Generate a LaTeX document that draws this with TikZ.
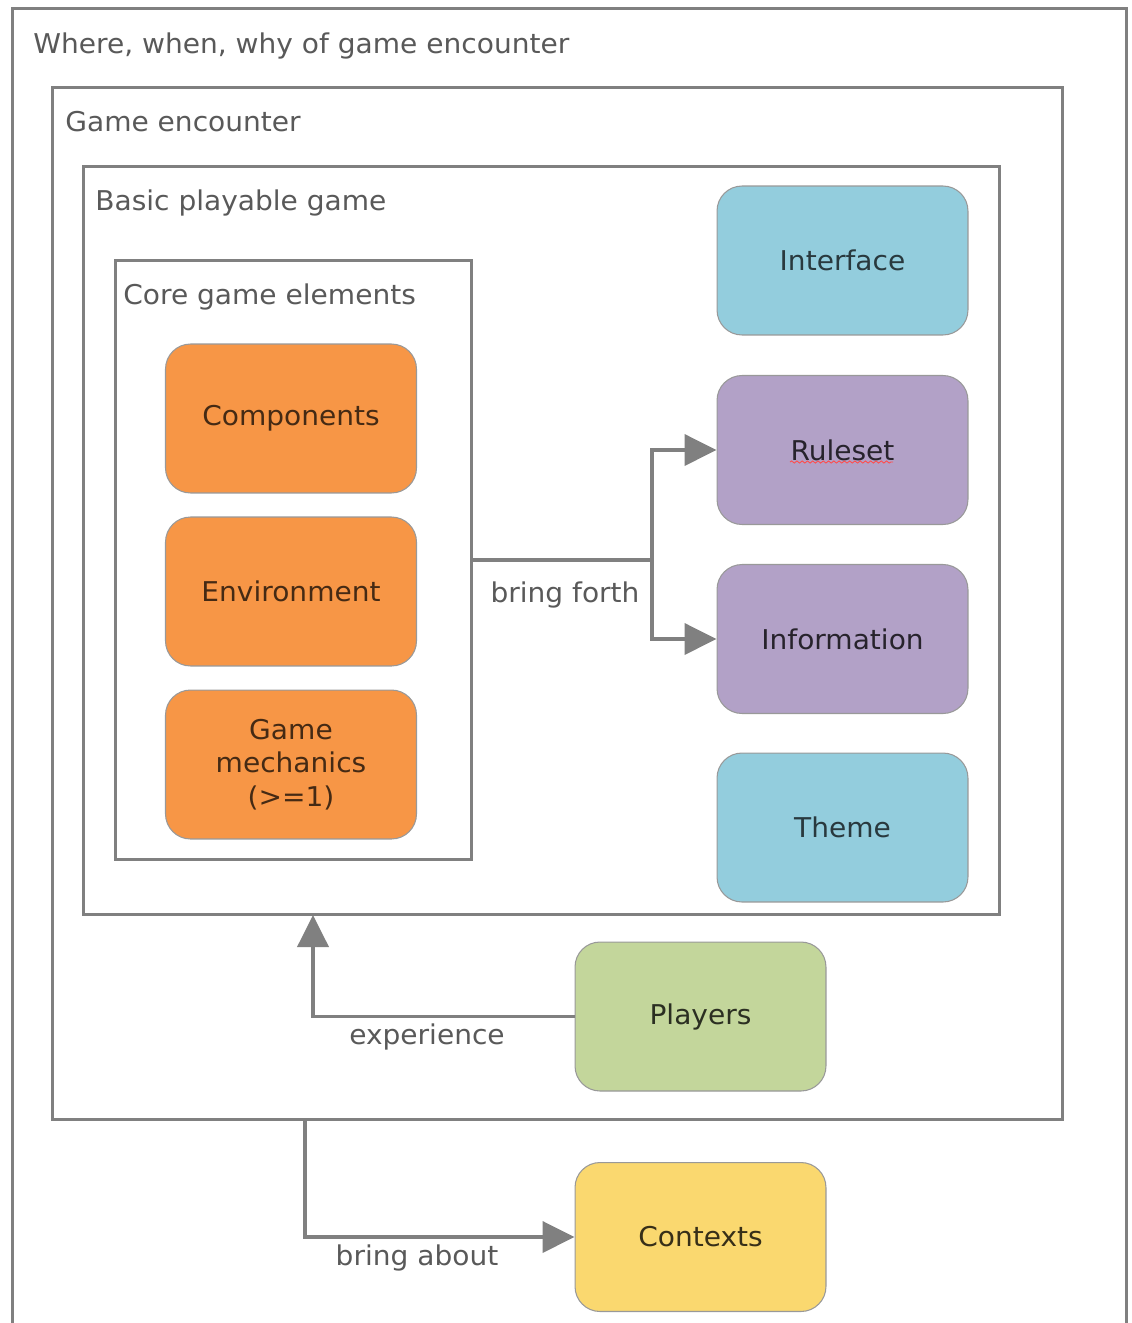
\documentclass[tikz,border=0pt]{standalone}
\usepackage{fontspec}
\setmainfont[FakeStretch=1.03]{DejaVu Sans}
\usetikzlibrary{arrows.meta,decorations.pathmorphing}
\definecolor{linegray}{HTML}{808080}
\definecolor{labelgray}{HTML}{595959}
\definecolor{orangefill}{HTML}{F79646}
\definecolor{bluefill}{HTML}{93CDDD}
\definecolor{purplefill}{HTML}{B2A1C7}
\definecolor{greenfill}{HTML}{C3D69B}
\definecolor{yellowfill}{HTML}{FAD86F}
\tikzset{
  frame/.style={draw=linegray, line width=1.7pt, rectangle, inner sep=0pt},
  frametitle/.style={anchor=base west, text=labelgray, font=\fontsize{15.5}{18}\selectfont, inner sep=0pt},
  elem/.style={draw=linegray!80, line width=0.6pt, rounded corners=0.5cm, minimum width=5.02cm,
    minimum height=2.98cm, align=center, font=\fontsize{15.5}{19}\selectfont, inner sep=2pt},
  orangebox/.style={elem, fill=orangefill, text=black!72!orangefill},
  bluebox/.style={elem, fill=bluefill, text=black!72!bluefill},
  purplebox/.style={elem, fill=purplefill, text=black!78!purplefill},
  greenbox/.style={elem, fill=greenfill, text=black!78!greenfill},
  yellowbox/.style={elem, fill=yellowfill, text=black!78!yellowfill},
  link/.style={draw=linegray, line width=2.2pt, -{Triangle[length=0.64cm,width=0.62cm]}},
  linklabel/.style={text=labelgray, font=\fontsize{15.5}{18}\selectfont, inner sep=0pt}
}
\begin{document}
\begin{tikzpicture}[x=0.02cm, y=-0.02cm]
\useasboundingbox (0,0) rectangle (1132,1323);
\fill[white] (0,0) rectangle (1132,1323);
\begin{scope}
\clip (0,0) rectangle (1132,1323);
% nested frames
\node[frame, minimum width=22.3cm, minimum height=26.64cm] (outer) at (569.5,674) {};
\node[frame, minimum width=20.22cm, minimum height=20.66cm] (encounter) at (557.5,603.5) {};
\node[frame, minimum width=18.34cm, minimum height=14.98cm] (basic) at (541.5,540.5) {};
\node[frame, minimum width=7.14cm, minimum height=12cm] (core) at (293.5,560) {};
\end{scope}
\node[frametitle] (t1) at (33,53) {Where, when, why of game encounter};
\node[frametitle] (t2) at (65,131) {Game encounter};
\node[frametitle] (t3) at (95,210) {Basic playable game};
\node[frametitle] (t4) at (123,304) {Core game elements};
% core game elements
\node[orangebox] (comp) at (291,418.5) {Components};
\node[orangebox] (env) at (291,591.5) {Environment};
\node[orangebox] (mech) at (291,764.5) {Game\\mechanics\\(>=1)};
% other parts of the basic playable game
\node[bluebox] (iface) at (842.5,260.5) {Interface};
\node[purplebox] (rules) at (842.5,450) {Ruleset};
\node[purplebox] (info) at (842.5,639) {Information};
\node[bluebox] (theme) at (842.5,827.5) {Theme};
% outside the basic game
\node[greenbox] (players) at (700.5,1016.5) {Players};
\node[yellowbox] (ctx) at (700.5,1237) {Contexts};
% spelling mark under Ruleset
\draw[red!70!white, line width=0.5pt, decorate, decoration={snake, amplitude=0.6pt, segment length=3pt}]
  (790,462) -- (893,462);
% connectors
\coordinate (fork) at (652,560);
\draw[link] (core.east) -- (fork) |- (rules.west);
\draw[link] (fork) |- (info.west);
\node[linklabel] (lforth) at (565,595) {bring forth};
\coordinate (expin) at (313,915);
\draw[link] (players.west) -| (expin);
\node[linklabel] (lexp) at (427,1037) {experience};
\coordinate (aboutout) at (305,1120);
\draw[link] (aboutout) |- (ctx.west);
\node[linklabel] (labout) at (417,1258) {bring about};
\end{tikzpicture}
\end{document}
